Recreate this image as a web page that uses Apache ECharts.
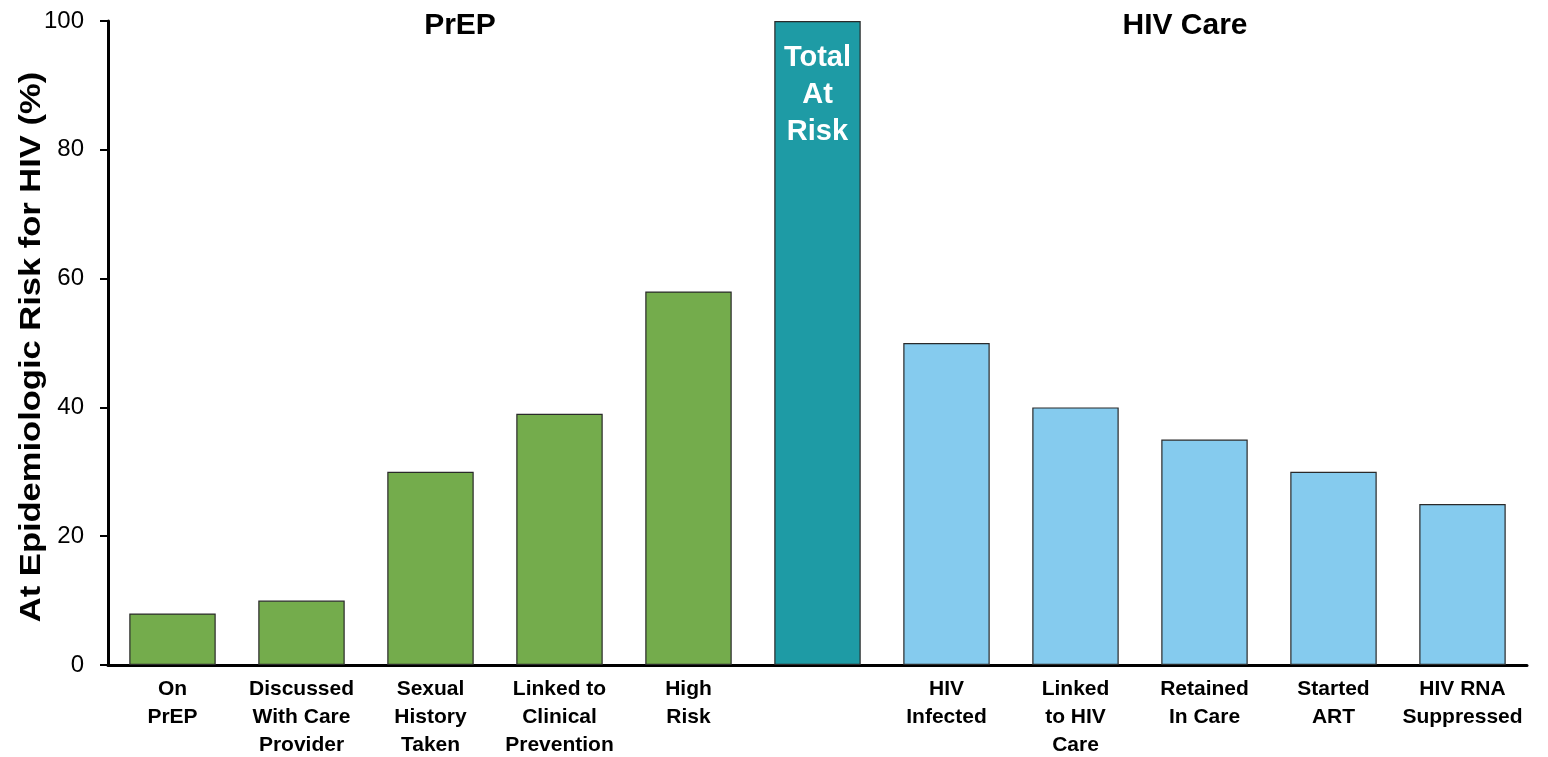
<!DOCTYPE html>
<html>
<head>
<meta charset="utf-8">
<script src="https://cdn.jsdelivr.net/npm/echarts@6/dist/echarts.min.js"></script>
<style>
  html, body { margin: 0; padding: 0; background: #fff; }
  #chart { width: 1548px; height: 757px; }
</style>
</head>
<body>
<div id="chart"></div>
<script>
// Continuum stages, left: PrEP steps, middle: total, right: HIV care steps
const categories = [
  'On\nPrEP', 'Discussed\nWith Care\nProvider', 'Sexual\nHistory\nTaken',
  'Linked to\nClinical\nPrevention', 'High\nRisk', '',
  'HIV\nInfected', 'Linked\nto HIV\nCare', 'Retained\nIn Care', 'Started\nART',
  'HIV RNA\nSuppressed'
];
const values = [8, 10, 30, 39, 58, 100, 50, 40, 35, 30, 25];
const groups = ['prep', 'prep', 'prep', 'prep', 'prep', 'total', 'care', 'care', 'care', 'care', 'care'];
const groupColors = { prep: '#74AC4C', total: '#1E9BA5', care: '#85CBEE' };
const totalLabel = 'Total\nAt\nRisk';
const yTicks = { min: 0, max: 100, interval: 20 };
const yTitle = 'At Epidemiologic Risk for HIV (%)';
const sectionTitles = ['PrEP', 'HIV Care'];

const FONT = "'Liberation Sans', Arial, sans-serif";
const chart = echarts.init(document.getElementById('chart'));

const barData = values.map((v, i) => {
  const item = { value: v, itemStyle: { color: groupColors[groups[i]] } };
  if (groups[i] === 'total') {
    item.label = {
      show: true,
      position: 'insideTop',
      distance: 18,
      formatter: totalLabel,
      color: '#fff',
      fontFamily: FONT,
      fontWeight: 'bold',
      fontSize: 29,
      lineHeight: 37
    };
  }
  return item;
});

chart.setOption({
  animation: false,
  backgroundColor: '#fff',
  grid: { left: 108, right: 21, top: 21, bottom: 92, containLabel: false, outerBoundsMode: 'none' },
  xAxis: {
    type: 'category',
    data: categories,
    axisLine: { lineStyle: { color: '#000', width: 3 } },
    axisTick: { show: false },
    axisLabel: {
      interval: 0,
      margin: 10,
      color: '#000',
      fontFamily: FONT,
      fontWeight: 'bold',
      fontSize: 21,
      lineHeight: 28
    }
  },
  yAxis: {
    type: 'value',
    min: yTicks.min,
    max: yTicks.max,
    interval: yTicks.interval,
    splitLine: { show: false },
    axisLine: { show: true, lineStyle: { color: '#000', width: 3 } },
    axisTick: { show: true, length: 8, lineStyle: { color: '#000', width: 2 } },
    axisLabel: {
      margin: 24,
      color: '#000',
      fontFamily: FONT,
      fontSize: 24
    }
  },
  series: [{
    type: 'bar',
    data: barData,
    barWidth: '67%',
    itemStyle: { borderColor: '#2a2a2a', borderWidth: 1.2 }
  }],
  graphic: [
    // vertical axis title, drawn tall and upright along the axis
    {
      type: 'text',
      x: 32,
      y: 347,
      rotation: Math.PI / 2,
      scaleX: 1.19,
      style: {
        text: yTitle,
        fill: '#000',
        font: 'bold 29px ' + FONT,
        align: 'center',
        verticalAlign: 'middle'
      }
    },
    // section headings
    {
      type: 'text',
      x: 460,
      y: 26,
      style: {
        text: sectionTitles[0],
        fill: '#000',
        font: 'bold 30px ' + FONT,
        align: 'center',
        verticalAlign: 'middle'
      }
    },
    {
      type: 'text',
      x: 1185,
      y: 26,
      style: {
        text: sectionTitles[1],
        fill: '#000',
        font: 'bold 30px ' + FONT,
        align: 'center',
        verticalAlign: 'middle'
      }
    }
  ]
});
</script>
</body>
</html>
